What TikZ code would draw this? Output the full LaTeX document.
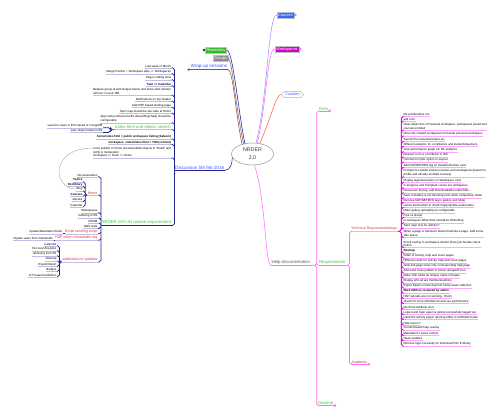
\documentclass[tikz,border=0pt]{standalone}
\usepackage{fontspec}
\setmainfont{Liberation Sans}
\usetikzlibrary{shapes.geometric,shapes.symbols}

\definecolor{navy}{RGB}{35,35,140}
\definecolor{lav}{RGB}{190,190,230}
\definecolor{mag}{RGB}{238,0,238}
\definecolor{pinkul}{RGB}{255,165,255}
\definecolor{hotpink}{RGB}{255,110,255}
\definecolor{grn}{RGB}{70,195,70}
\definecolor{redtxt}{RGB}{215,55,55}
\definecolor{bluetxt}{RGB}{60,90,255}
\definecolor{brownln}{RGB}{160,70,70}
\definecolor{tagblue}{RGB}{55,100,255}
\definecolor{tagmag}{RGB}{205,0,205}
\definecolor{taggreen}{RGB}{50,185,40}
\definecolor{taggray}{RGB}{140,140,140}
\definecolor{skyln}{RGB}{150,150,255}
\definecolor{curred}{RGB}{255,90,90}

\begin{document}
\begin{tikzpicture}[x=1pt,y=-1pt,
 ul/.style={append after command={(\tikzlastnode.south west) edge[draw=#1,line width=.45pt] (\tikzlastnode.south east)}},
 lf/.style={font=\fontsize{2.95}{3.8}\selectfont,inner sep=.35pt,align=left},
 litem/.style={lf,anchor=south east,ul=lav},
 ritem/.style={lf,anchor=south west,ul=pinkul},
 sub/.style={font=\fontsize{3.6}{4.3}\selectfont,inner sep=.4pt,text=redtxt,anchor=south east,ul=lav},
 topic/.style={font=\fontsize{4.4}{5}\selectfont,inner sep=.5pt},
 tag/.style={font=\fontsize{3.9}{4.5}\selectfont,text=white,inner sep=1.2pt,minimum height=5.8pt,draw=black!25,line width=.3pt},
 cn/.style={line width=.55pt},
 brk/.style={navy,line width=.7pt,rounded corners=1.8pt},
 knob/.style={line width=.3pt,fill=white}]
\fill[white] (0,0) rectangle (500,417);
\useasboundingbox (0,0) rectangle (500,417);

% centre
\node[ellipse,draw=black!45,line width=.45pt,minimum width=42pt,minimum height=22pt,inner sep=0pt,align=center,text=black!80,font=\fontsize{5.3}{8}\selectfont] (root) at (252.5,154) {NRDER\\2.0};

% top branches
\node[tag,fill=tagblue] (courses) at (285.5,15) {Courses};
\node[tag,fill=tagmag] (wsp) at (287,49) {Workspaces};
\node[tag,fill=taggreen] (repo) at (216,50) {Repository};
\node[tag,fill=taggray] (groups) at (220.5,58.3) {Groups};
\node[topic,font=\fontsize{4.6}{5}\selectfont,text=bluetxt,anchor=south east,ul=brownln] (wrap) at (228,69.6) {Wrap-up sessions};
\node[signal,signal to=east and west,draw=curred!70,line width=.4pt,text=bluetxt,font=\fontsize{3.8}{4.5}\selectfont,inner sep=.8pt,minimum height=6.2pt] (cur) at (292.5,94.5) {Curation};

\draw[cn,skyln] (root.72) .. controls (268,95) and (268,15) .. (courses.west);
\draw[cn,hotpink] (root.66) .. controls (268,95) and (267,49) .. (wsp.west);
\draw[cn,navy!80!blue] (root.126) .. controls (238,110) and (233,50) .. (repo.east);
\draw[cn,taggray!80!black] (root.131) .. controls (236,110) and (232,58.3) .. (groups.east);
\draw[cn,brownln] (root.137) .. controls (235,110) and (233,69.6) .. (wrap.south east);
\draw[cn,curred] (root.55) .. controls (272,115) and (276,94.5) .. (cur.west);
\draw[knob,skyln] ([xshift=1.3pt]courses.east) circle (1.1pt);
\draw[knob,hotpink] ([xshift=1.3pt]wsp.east) circle (1.1pt);
\draw[knob,navy] ([xshift=-1.3pt]repo.west) circle (1.1pt);
\draw[knob,brownln] ([xshift=-1.1pt]wrap.south west) circle (1.1pt);

% Discussion 5th feb 2016
\node[topic,font=\fontsize{4.6}{5}\selectfont,text=bluetxt,anchor=south west,ul=navy] (disc) at (174.5,170.3) {Discussion 5th feb 2016};
\draw[cn,navy] (disc.south east) .. controls (231,170.3) and (232,163) .. (root.190);
\node[litem] (d1) at (171.5,67.8) {Last week of March};
\node[litem] (d2) at (171.5,73.8) {Merge Partner + Workspace tabs => Workspaces};
\node[litem] (d3) at (171.5,79.8) {Page Loading slow};
\node[litem] (d4) at (171.5,85.8) {\textbf{Task => Calendar}};
\node[litem] (d5) at (171.5,95.3) {Replace group id with Unique Name and show after domain\\remove "course" BB};
\node[litem] (d6) at (171.5,101.3) {Notifications on top header};
\node[litem] (d7) at (171.5,107.3) {Add HSP based landing page};
\node[litem] (d8) at (171.5,113.3) {Topic map should be site wide at Home};
\node[litem] (d9) at (171.5,122.8) {App names (Resource/E-Library/Blog/Task) should be\\configurable};
\node[topic,font=\fontsize{4.3}{5}\selectfont,text=grn,anchor=south east,ul=lav] (idx) at (171.5,129.6) {Index.html and elastic search};
\node[litem] (i1) at (103,127.8) {save the views in ES instead of mongoDB};
\node[litem] (i2) at (103,132.5) {save object model in ES};
\node[litem] (d11) at (171.5,139) {\textbf{home/index.html = public workspace listing (Saleem)}};
\node[litem] (d12) at (171.5,144.5) {\textbf{workspace\_name/index.html = TOC(content)}};
\node[litem] (d13) at (171.5,158) {cross publish to Home should publish objects to "Dead" and\\notify to moderation\\workspace => Desk => Home};
\draw[brk] \foreach \n in {d1,d2,d3,d4,d5,d6,d7,d8,d9,idx,d11,d12,d13} {(disc.south west) |- (\n.south east)};
\draw[brk] \foreach \n in {i1,i2} {(idx.south west) -- ++(-4,0) |- (\n.south east)};

% NRDER.GOV.IN update requirements
\node[topic,font=\fontsize{4.2}{5}\selectfont,text=grn,anchor=south west,ul=navy] (gov) at (101,225.5) {NRDER.GOV.IN update requirements};
\draw[brk] (disc.south west) |- (gov.south east);
\node[litem] (g1) at (98,176.8) {Documentation};
\node[sub] (home) at (98,195) {Home};
\node[litem] (h1) at (83,181.8) {\textbf{Topics}};
\node[litem] (h2) at (83,186.5) {\textbf{Ecolibrary}};
\node[litem] (h3) at (83,191.1) {Blog};
\node[litem] (h4) at (83,196.1) {\textbf{Courses}};
\node[litem] (h5) at (83,201.5) {eBooks};
\node[litem] (h6) at (83,206.8) {Calendar};
\node[litem] (g3) at (98,212.8) {Workspaces};
\node[litem] (g4) at (98,218.1) {Indexing in ES};
\node[litem] (g5) at (98,223.1) {OAOM};
\node[litem] (g6) at (98,228.5) {AWS stats};
\node[sub] (email) at (98,233.8) {Email sending script};
\node[litem] (e1) at (62.5,233.8) {Update/Newsletter Email};
\node[sub] (hsp) at (98,240.3) {HSP intern metastudio.org};
\node[litem] (m1) at (53.5,240.3) {migrate users from metastudio};
\node[sub] (add) at (98,262) {addendum to updates};
\node[litem] (a1) at (57,245.8) {Calendar};
\node[litem] (a2) at (57,250.8) {File level Analytics};
\node[litem] (a3) at (57,255.8) {retrieving from ES};
\node[litem] (a4) at (57,261.1) {Sitemap};
\node[litem] (a5) at (57,266.3) {Export/Import};
\node[litem] (a6) at (57,271.3) {Badges};
\node[litem] (a7) at (57,276.8) {ICT based facilitation};
\draw[brk] \foreach \n in {g1,home,g3,g4,g5,g6,email,hsp,add} {(gov.south west) |- (\n.south east)};
\draw[brk] \foreach \n in {h1,h2,h3,h4,h5,h6} {(home.south west) -- ++(-2,0) |- (\n.south east)};
\draw[brk] \foreach \n in {a1,a2,a3,a4,a5,a6,a7} {(add.south west) -- ++(-2.5,0) |- (\n.south east)};
\draw[brk] (email.south west) -- (e1.south east);
\draw[brk] (hsp.south west) -- (m1.south east);
\draw[gray!70,line width=.4pt] ([yshift=-1.6pt]d13.north west) .. controls (50,148) and (52,188) .. (h3.west);

% Help documentation
\node[topic,font=\fontsize{4.3}{5}\selectfont,text=black!65,anchor=south west,ul=hotpink] (help) at (271,265.3) {Help documentation};
\draw[cn,hotpink] (root.-80) .. controls (266,200) and (265,265.3) .. (help.south west);
\node[topic,font=\fontsize{4.2}{5}\selectfont,text=grn,anchor=south west,ul=hotpink] (role) at (318.5,110.8) {Role};
\node[topic,font=\fontsize{4.2}{5}\selectfont,text=grn,anchor=south west,ul=hotpink] (req) at (318.5,265.3) {Requirements};
\node[topic,font=\fontsize{4.2}{5}\selectfont,text=grn,anchor=south west,ul=hotpink] (general) at (317.5,405.5) {General};
\draw[brk,hotpink] \foreach \n in {role,req,general} {(help.south east) -- ++(6,0) |- (\n.south west)};
\node[topic,font=\fontsize{3.5}{4}\selectfont,text=redtxt,anchor=south west,ul=pinkul] (tech) at (350.5,231.3) {Technical Requirements/bugs};
\node[topic,font=\fontsize{3.5}{4}\selectfont,text=redtxt!80!black,anchor=south west,ul=hotpink] (acad) at (351,364.3) {Academic};
\draw[brk,hotpink] \foreach \n in {tech,acad} {(req.south east) -- ++(3.5,0) |- (\n.south west)};
\draw[knob,hotpink] ([xshift=1.1pt]role.south east) circle (1.1pt);
\draw[knob,hotpink] ([xshift=1.1pt]acad.south east) circle (1.1pt);
\draw[knob,hotpink] ([xshift=1.1pt]general.south east) circle (1.1pt);

% technical requirements / bugs
\node[ritem] (t1) at (403,116.5) {My profile/about me};
\node[ritem] (t2) at (403,121.1) {edit error};
\node[ritem] (t3) at (403,130.1) {Clear distinction of Personal workspace, workspaces joined and\\courses enrolled};
\node[ritem] (t4) at (403,136.1) {Move My created workspaces to beside personal workspace};
\node[ritem] (t5) at (403,141.5) {Search the interested topics etc};
\node[ritem] (t6) at (403,146.5) {Different analytics for contributors and students/teachers};
\node[ritem] (t7) at (403,151.8) {Give performance graph etc FB analytics};
\node[ritem] (t8) at (403,157.1) {Request to be a contributor in WS};
\node[ritem] (t9) at (403,162.1) {comment in Quiz option or Layout};
\node[ritem] (t10) at (403,167.5) {Add NAT/NETERN tag on Asset/Collection card};
\node[ritem] (t11) at (403,176.8) {Prompts for similar interest courses and workspaces (based on\\profile and already enrolled courses)};
\node[ritem] (t12) at (403,182.5) {Display tags/description on Workspace card};
\node[ritem] (t13) at (403,187.8) {In progress and Complete course are ambiguous};
\node[ritem] (t14) at (403,192.8) {Resources Tool tip, add Downloadable useful files...};
\node[ritem] (t15) at (403,197.8) {Save in Gallery is not throwing error when compulsary fields};
\node[ritem] (t16) at (403,202.5) {Remove NAT/NETERN tag in gallery and folder};
\node[ritem] (t17) at (403,207.5) {review mechanism to check inappropriate audio/video};
\node[ritem] (t18) at (403,212.8) {Make gallery uploading as configurable};
\node[ritem] (t19) at (403,217.5) {Free vs Guest};
\node[ritem] (t20) at (403,222.8) {In workspace Write Note should be Write Blog};
\node[ritem] (t21) at (403,227.8) {Topic map only for admins?};
\node[ritem] (t22) at (403,237.5) {When a page is opened it doesnt look like a page. Add some\\side space};
\node[ritem] (t23) at (403,247.5) {Enroll overlay in workspace doesnt show join beside check\\button};
\node[ritem] (t24) at (403,252.8) {\textbf{Sitemap}};
\node[ritem] (t25) at (403,257.8) {Order of activity, help and count pages};
\node[ritem] (t26) at (403,262.8) {Different cards for activity, help and count pages};
\node[ritem] (t27) at (403,267.8) {while link page show only corresponding help page};
\node[ritem] (t28) at (403,272.8) {Add word cross publish in Action alongwith icon};
\node[ritem] (t29) at (403,277.8) {Make Title name as Unique name in Pages};
\node[ritem] (t30) at (403,282.8) {Display who all are members/admins};
\node[ritem] (t31) at (403,287.8) {Export Epub is removing from home asset collection};
\node[ritem] (t32) at (403,293.1) {\textbf{Mark OER as reviewed by admin}};
\node[ritem] (t33) at (403,298.5) {HSP uploads are not working - Ruchi};
\node[ritem] (t34) at (403,303.5) {Check for more affordances and see performance};
\node[ritem] (t35) at (403,309.1) {RunTime Attribute error};
\node[ritem] (t36) at (403,314.5) {Logout and login again is giving successfully logged out};
\node[ritem] (t37) at (403,319.5) {Liked the activity player opening effect in CMS/edit mode};
\node[ritem] (t38) at (403,324.8) {Hide lesson?};
\node[ritem] (t39) at (403,330.1) {Context based help overlay};
\node[ritem] (t40) at (403,335.5) {Metadata for asset content};
\node[ritem] (t41) at (403,340.5) {News updates};
\node[ritem] (t42) at (403,346.1) {Remove login necessity for download from E-library};
\draw[brk,mag,line width=.9pt] \foreach \i in {1,...,42} {(tech.south east) -- ++(3.5,0) |- (t\i.south west)};
\end{tikzpicture}
\end{document}
